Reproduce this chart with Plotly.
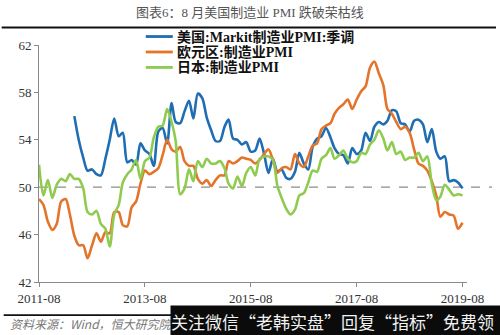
import pandas as pd
import plotly.graph_objects as go

# Monthly manufacturing PMI, 2011-08 .. 2019-08
months = pd.date_range("2011-08-01", "2019-08-01", freq="MS")

us_markit = [None] * 8 + [
    56.0, 54.0, 52.5, 51.4, 51.5, 51.1, 51.0, 52.4, 54.0,                  # 2012-04..12
    55.8, 54.3, 54.6, 52.1, 52.3, 51.9, 53.7, 53.1, 52.8, 51.8, 54.7, 55.0,  # 2013
    53.7, 57.1, 55.5, 55.4, 56.4, 57.3, 55.8, 57.9, 57.5, 55.9, 54.8, 53.9,  # 2014
    53.9, 55.1, 55.7, 54.1, 54.0, 53.6, 53.8, 53.0, 53.1, 54.1, 52.8, 51.2,  # 2015
    52.4, 51.3, 51.5, 50.8, 50.7, 51.3, 52.9, 52.0, 51.5, 53.4, 54.1, 54.3,  # 2016
    55.0, 54.2, 53.3, 52.8, 52.7, 52.0, 53.3, 52.8, 53.1, 54.6, 53.9, 55.1,  # 2017
    55.5, 55.3, 55.6, 56.5, 56.4, 55.4, 55.3, 54.7, 55.6, 55.7, 55.3, 53.8,  # 2018
    54.9, 53.0, 52.4, 52.6, 50.5, 50.6, 50.4, 49.9,                          # 2019
]

euro_area = [
    49.0, 48.5, 47.1, 46.4, 46.9,                                            # 2011-08..12
    48.8, 49.0, 47.7, 45.9, 45.1, 45.1, 44.0, 45.1, 46.1, 45.4, 46.2, 46.1,  # 2012
    47.9, 47.9, 46.8, 46.7, 48.3, 48.8, 50.3, 51.4, 51.1, 51.3, 51.6, 52.7,  # 2013
    54.0, 53.2, 53.0, 53.4, 52.2, 51.8, 51.8, 50.7, 50.3, 50.6, 50.1, 50.6,  # 2014
    51.0, 51.0, 52.2, 52.0, 52.2, 52.5, 52.4, 52.3, 52.0, 52.3, 52.8, 53.2,  # 2015
    52.3, 51.2, 51.6, 51.7, 51.5, 52.8, 52.0, 51.7, 52.6, 53.5, 53.7, 54.9,  # 2016
    55.2, 55.4, 56.2, 56.7, 57.0, 57.4, 56.6, 57.4, 58.1, 58.5, 60.1, 60.6,  # 2017
    59.6, 58.6, 56.6, 56.2, 55.5, 54.9, 55.1, 54.6, 53.2, 52.0, 51.8, 51.4,  # 2018
    50.5, 49.3, 47.5, 47.9, 47.7, 47.6, 46.5, 47.0,                          # 2019
]

japan = [
    51.9, 49.3, 50.6, 49.1, 50.2,                                            # 2011-08..12
    50.7, 50.5, 51.1, 50.7, 50.7, 49.9, 47.9, 47.7, 48.0, 46.9, 46.5, 45.0,  # 2012
    47.7, 48.5, 50.4, 51.1, 51.5, 52.3, 50.7, 52.2, 52.5, 54.2, 55.1, 55.2,  # 2013
    56.6, 55.5, 53.9, 49.4, 49.9, 51.5, 50.5, 52.2, 51.7, 52.4, 52.0, 52.0,  # 2014
    52.2, 51.6, 50.3, 49.9, 50.9, 50.1, 51.2, 51.7, 51.0, 52.4, 52.6, 52.6,  # 2015
    52.3, 50.1, 49.1, 48.2, 47.7, 48.1, 49.3, 49.5, 50.4, 51.4, 51.3, 52.4,  # 2016
    52.7, 53.3, 52.4, 52.7, 53.1, 52.4, 52.1, 52.2, 52.9, 52.8, 53.6, 54.0,  # 2017
    54.8, 54.1, 53.1, 53.8, 52.8, 53.0, 52.3, 52.5, 52.5, 52.9, 52.2, 52.6,  # 2018
    50.3, 48.9, 49.2, 50.2, 49.8, 49.3, 49.4, 49.3,                          # 2019
]

series_names = ["美国:Markit制造业PMI:季调", "欧元区:制造业PMI", "日本:制造业PMI"]
series_colors = ["#1f6db3", "#e5742b", "#8fcb4f"]

x_ticks = ["2011-08-01", "2013-08-01", "2015-08-01", "2017-08-01", "2019-08-01"]
x_tick_text = ["2011-08", "2013-08", "2015-08", "2017-08", "2019-08"]
y_ticks = [42, 46, 50, 54, 58, 62]

SERIF = "Liberation Serif, Noto Sans CJK SC, serif"
CJK = "Noto Sans CJK SC, sans-serif"

fig = go.Figure()
for name, vals, col in zip(series_names, [us_markit, euro_area, japan], series_colors):
    fig.add_trace(go.Scatter(
        x=months, y=vals, name=name, mode="lines",
        line=dict(color=col, width=2.6, shape="spline", smoothing=0.8),
        connectgaps=False, showlegend=False,
    ))

# plot area geometry in pixels, used to place the page furniture
L, R, T, B = 39.3, 467.0, 44.5, 282.3
def px(xp):
    return (xp - L) / (R - L)
def py(yp):
    return (B - yp) / (B - T)

fig.update_layout(
    width=500, height=335,
    margin=dict(l=L, r=500 - R, t=T, b=335 - B),
    paper_bgcolor="white", plot_bgcolor="white",
    xaxis=dict(
        type="date", range=["2011-08-01", "2019-09-01"],
        tickvals=x_ticks, ticktext=x_tick_text,
        showgrid=False, zeroline=False,
        showline=True, linecolor="#8a8a8a", linewidth=1,
        ticks="outside", ticklen=4, tickcolor="#8a8a8a",
        tickfont=dict(family=SERIF, size=13, color="#333"),
    ),
    yaxis=dict(
        range=[42, 62], tickvals=y_ticks,
        showgrid=False, zeroline=False,
        showline=True, linecolor="#8a8a8a", linewidth=1,
        ticks="outside", ticklen=4, tickcolor="#8a8a8a",
        tickfont=dict(family=SERIF, size=13, color="#333"),
    ),
)

# legend: short coloured stroke followed by a bold label, one row per series
legend_rows = [36, 51.5, 67]
for name, col, row in zip(series_names, series_colors, legend_rows):
    fig.add_shape(type="line", xref="paper", yref="paper",
                  x0=px(146), x1=px(173), y0=py(row), y1=py(row),
                  line=dict(color=col, width=2.8))
    fig.add_annotation(text=f"<b>{name}</b>", xref="paper", yref="paper",
                       x=px(176), y=py(row), xanchor="left", yanchor="middle",
                       showarrow=False, borderpad=0,
                       font=dict(family=SERIF, size=14, color="#111"))

# 50 boom/bust reference line
fig.add_shape(type="line", xref="paper", yref="y", x0=0, x1=px(492), y0=50, y1=50,
              line=dict(color="#8c8c8c", width=1.2, dash="dash"), layer="below")

# rules above and below the chart
fig.add_shape(type="line", xref="paper", yref="paper", x0=px(2), x1=px(496), y0=py(27), y1=py(27),
              line=dict(color="#111", width=2))
fig.add_shape(type="line", xref="paper", yref="paper", x0=px(4), x1=px(496), y0=py(315.5), y1=py(315.5),
              line=dict(color="#111", width=1.6))

fig.add_annotation(text="图表6：8 月美国制造业 PMI 跌破荣枯线", xref="paper", yref="paper",
                   x=px(250), y=py(12), xanchor="center", yanchor="middle", showarrow=False,
                   font=dict(family=SERIF, size=13, color="#555"))

fig.add_annotation(text="<i>资料来源：Wind，恒大研究院</i>", xref="paper", yref="paper",
                   x=px(8), y=py(324), xanchor="left", yanchor="middle", showarrow=False,
                   font=dict(family=CJK, size=12, color="#777"))

fig.add_annotation(text="关注微信“老韩实盘”回复“指标”免费领", xref="paper", yref="paper",
                   x=px(170), y=py(305), xanchor="left", yanchor="top", showarrow=False,
                   width=334, height=30, align="left", valign="middle", borderpad=0,
                   bgcolor="#0b0b0b",
                   font=dict(family=CJK, size=17, color="#f2f2f2"))

fig.write_html("out.html")
